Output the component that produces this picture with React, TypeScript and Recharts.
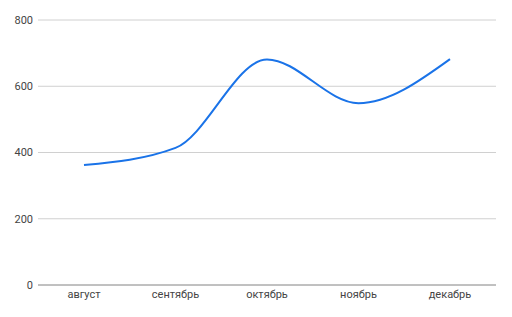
import { CartesianGrid, Line, LineChart, XAxis, YAxis } from "recharts";

const months = ["август", "сентябрь", "октябрь", "ноябрь", "декабрь"];
const values = [362, 414, 681, 549, 682];
const yTicks = [0, 200, 400, 600, 800];

const data = months.map((m, i) => ({ month: m, value: values[i] }));

export default function App() {
  return (
    <div style={{ position: "absolute", left: 0, top: 0, width: 512, height: 317, background: "#fff" }}>
      <LineChart
        width={512}
        height={317}
        data={data}
        margin={{ top: 20, right: 16, left: 0, bottom: 1 }}
        style={{ fontFamily: "Roboto, Arial, sans-serif" }}
      >
        <CartesianGrid stroke="#d0d0d0" vertical={false} />
        <XAxis
          dataKey="month"
          padding={{ left: 46, right: 46 }}
          axisLine={{ stroke: "#9a9a9a" }}
          tickLine={false}
          tickSize={0}
          tickMargin={5}
          height={31}
          tick={{ fontSize: 11, fill: "#444" }}
          interval={0}
        />
        <YAxis
          domain={[0, 800]}
          ticks={yTicks}
          width={38}
          axisLine={false}
          tickLine={false}
          tickSize={0}
          tickMargin={5}
          tick={{ fontSize: 11, fill: "#444" }}
        />
        <Line
          type="monotone"
          dataKey="value"
          stroke="#1a73e8"
          strokeWidth={2}
          dot={false}
          isAnimationActive={false}
        />
      </LineChart>
    </div>
  );
}
